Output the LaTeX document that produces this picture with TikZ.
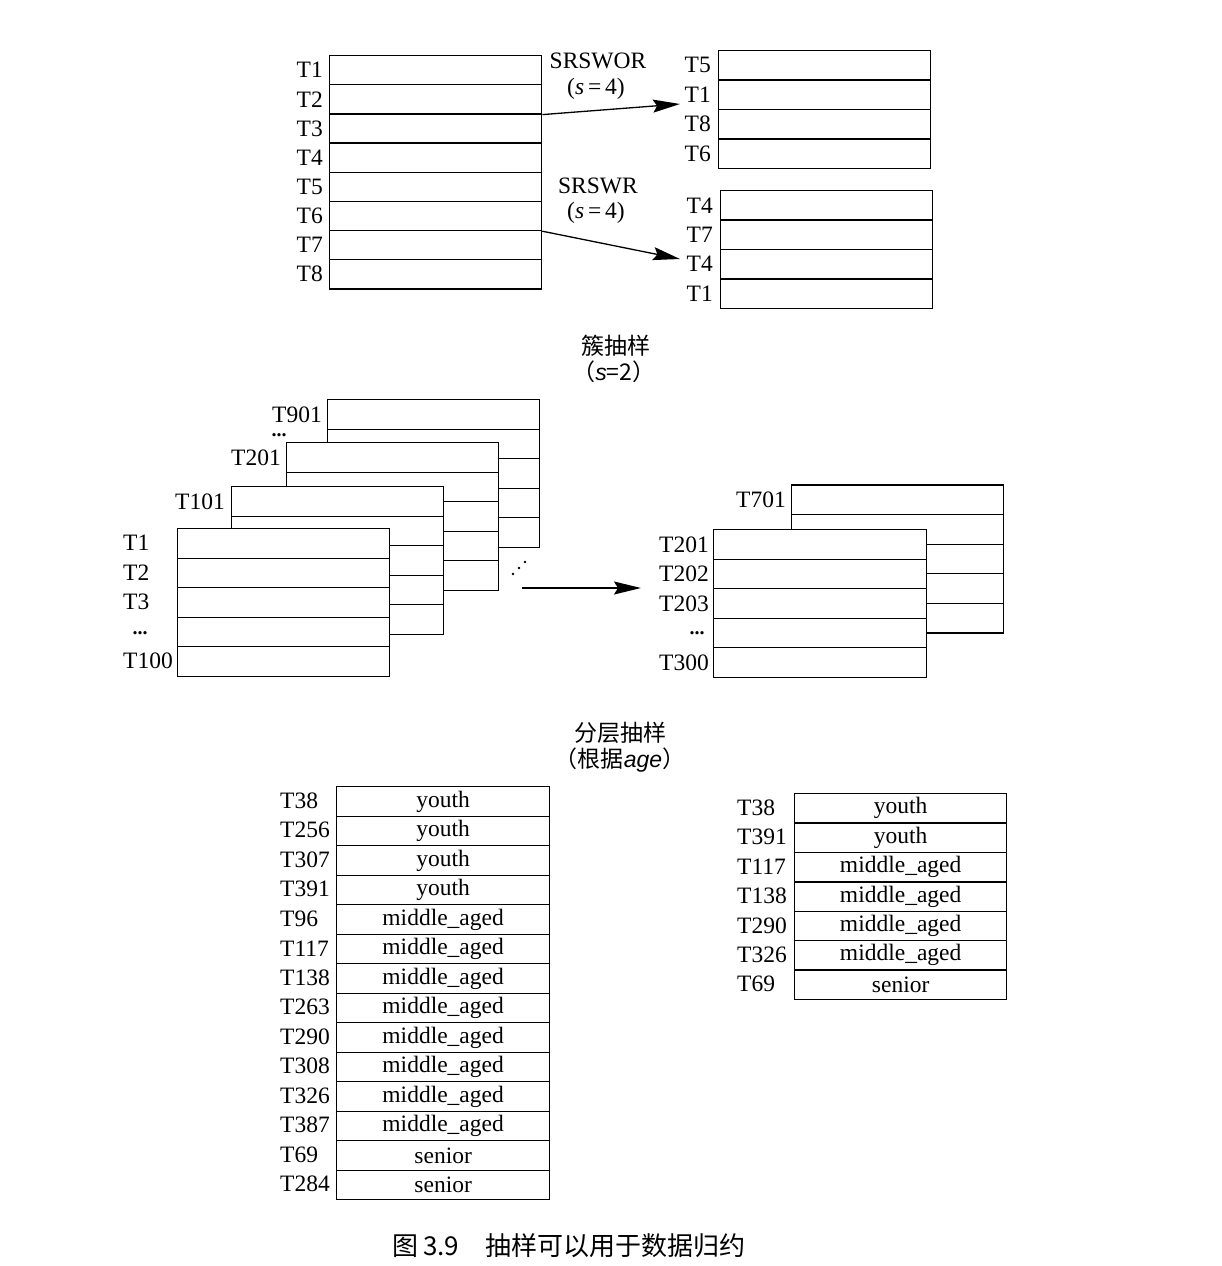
\documentclass[tikz,border=0pt]{standalone}
\usepackage{fontspec}
\setmainfont{Liberation Serif}
\setsansfont{Liberation Sans}
\newfontfamily\cjk{Noto Sans CJK SC}
\usepackage{tikz}
\usetikzlibrary{positioning}
\usetikzlibrary{arrows.meta}
\tikzstyle{cell} = [draw, fill=white, line width=1.3pt, minimum width=212pt, minimum height=29.4pt, inner sep=0pt, anchor=north west]
\tikzstyle{lbl} = [inner sep=1pt]
\tikzstyle{dotlbl} = [inner sep=0pt, font=\fontsize{20}{22}\selectfont\bfseries]
\tikzstyle{title} = [font={\cjk\fontsize{23}{28}\selectfont}]
\tikzstyle{samplearrow} = [line width=1.3pt, -{Stealth[length=27pt, width=13pt, inset=4pt]}]

\begin{document}
\begin{tikzpicture}[x=1pt, y=-1pt, font=\fontsize{23.5}{28}\selectfont]
\useasboundingbox (0,0) rectangle (1222,1266);

\foreach \tname [count=\i] in {T1,T2,T3,T4,T5,T6,T7,T8}{
  \node[cell, minimum height=29.15pt] (pop\i) at (329, {55+29.15*(\i-1)}) {};
  \node[lbl, left=5pt of pop\i] (popl\i) {\tname};
}
\foreach \tname [count=\i] in {T5,T1,T8,T6}{
  \node[cell] (wor\i) at (718, {50+29.4*(\i-1)}) {};
  \node[lbl, left=6pt of wor\i] (worl\i) {\tname};
}
\foreach \tname [count=\i] in {T4,T7,T4,T1}{
  \node[cell] (wr\i) at (720, {190+29.4*(\i-1)}) {};
  \node[lbl, left=6pt of wr\i] (wrl\i) {\tname};
}
\node (worlbl) at (598,61) {SRSWOR};
\node (worsz) at (596,89) {(\textit{s}\,=\,4)};
\node (wrlbl) at (598,186) {SRSWR};
\node (wrsz) at (596,213) {(\textit{s}\,=\,4)};
\coordinate (worend) at (680,104);
\coordinate (wrend) at (680,259);
\draw[samplearrow] (pop2.south east) -- (worend);
\draw[samplearrow] (pop6.south east) -- (wrend);

\node[title] (cltitle) at (616,346) {簇抽样};
\node[title] (clsz) at (614,372) {（\textsf{\textit{s}}=2）};
\foreach \k/\px/\py in {4/327/399, 3/286/442, 2/231/486, 1/177/528}
  \foreach \i in {1,...,5}
    \node[cell, minimum height=29.5pt] (cl\k-\i) at (\px, {\py+29.5*(\i-1)}) {};
\node[lbl, left=4pt of cl4-1] (cl4l) {T901};
\node[dotlbl] (cl4d) at (279,435) {...};
\node[lbl, left=4pt of cl3-1] (cl3l) {T201};
\node[lbl, left=5pt of cl2-1] (cl2l) {T101};
\foreach \tname [count=\i] in {T1,T2,T3}
  \node[lbl, anchor=west] (cl1l\i) at (122, {528+29.5*(\i-1)+14.75}) {\tname};
\node[dotlbl] (cl1l4) at (140,633) {...};
\node[lbl, anchor=west] (cl1l5) at (122,660.75) {T100};
\foreach \d in {0,1,2}
  \fill (513+6*\d, 574-6*\d) circle (1.3pt);
\coordinate (clstart) at (522,588);
\coordinate (clend) at (641,588);
\draw[samplearrow] (clstart) -- (clend);

\foreach \i in {1,...,5}
  \node[cell, minimum height=29.6pt] (cs2-\i) at (791, {484.3+29.6*(\i-1)}) {};
\foreach \i in {1,...,5}
  \node[cell, minimum height=29.5pt, minimum width=213pt] (cs1-\i) at (713, {529+29.5*(\i-1)}) {};
\node[lbl, left=4pt of cs2-1] (cs2l) {T701};
\foreach \tname [count=\i] in {T201,T202,T203}
  \node[lbl, left=3pt of cs1-\i] (cs1l\i) {\tname};
\node[dotlbl] (cs1l4) at (697,633) {...};
\node[lbl, left=3pt of cs1-5] (cs1l5) {T300};

\node[title] (sttitle) at (620,733) {分层抽样};
\node[title] (stsz) at (620,760) {（根据\textsf{\textit{age}}）};
\foreach \tname/\tval [count=\i] in {T38/youth, T256/youth, T307/youth, T391/youth, T96/middle\_aged, T117/middle\_aged, T138/middle\_aged, T263/middle\_aged, T290/middle\_aged, T308/middle\_aged, T326/middle\_aged, T387/middle\_aged, T69/senior, T284/senior}{
  \node[cell, minimum height=29.5pt, minimum width=213pt] (st\i) at (336, {786+29.5*(\i-1)}) {\tval};
  \node[lbl, anchor=west] (stl\i) at (279, {786+29.5*(\i-1)+14.75}) {\tname};
}
\foreach \tname/\tval [count=\i] in {T38/youth, T391/youth, T117/middle\_aged, T138/middle\_aged, T290/middle\_aged, T326/middle\_aged, T69/senior}{
  \node[cell] (ss\i) at (794, {793+29.4*(\i-1)}) {\tval};
  \node[lbl, anchor=west] (ssl\i) at (736, {793+29.4*(\i-1)+14.7}) {\tname};
}

\node[font={\cjk\fontsize{26}{30}\selectfont}] (caption) at (569,1246) {图\,3.9\quad 抽样可以用于数据归约};
\end{tikzpicture}
\end{document}
